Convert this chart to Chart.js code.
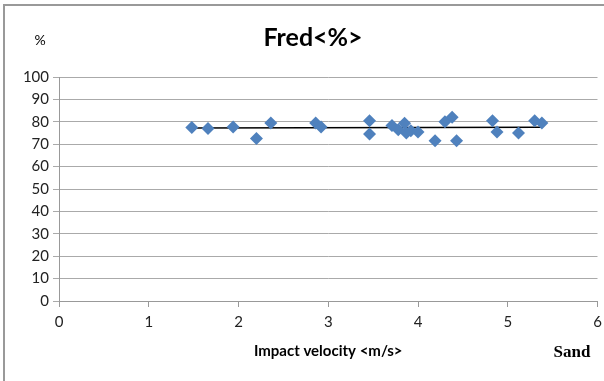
<!DOCTYPE html>
<html>
<head>
<meta charset="utf-8">
<script src="https://cdn.jsdelivr.net/npm/chart.js@4"></script>
<style>
  body { margin: 0; background: #fff; }
  #wrap { position: relative; width: 604px; height: 381px; }
  #frame { position: absolute; left: 3px; top: 4px; width: 610px; height: 390px;
           border-left: 2px solid #999; border-top: 2px solid #999; box-sizing: border-box; }
  canvas { position: absolute; left: 0; top: 0; }
</style>
</head>
<body>
<div id="wrap">
  <div id="frame"></div>
  <canvas id="fredChart" width="604" height="381"></canvas>
</div>
<script>
// impact velocity (m/s) and Fred (%)
const velocity = [1.48, 1.66, 1.94, 2.20, 2.36, 2.86, 2.92, 3.46, 3.46, 3.71, 3.78, 3.85, 3.87, 3.92, 4.00, 4.19, 4.30, 4.38, 4.43, 4.83, 4.88, 5.12, 5.30, 5.38];
const fred     = [77.5, 77.0, 77.7, 72.5, 79.5, 79.5, 77.7, 80.5, 74.5, 78.3, 76.5, 79.3, 75.0, 76.0, 75.5, 71.5, 80.0, 82.0, 71.5, 80.5, 75.5, 75.0, 80.5, 79.5];
const trendX   = [1.48, 5.38];
const trendY   = [77.2, 77.6];
const xTicks   = [0, 1, 2, 3, 4, 5, 6];
const yTicks   = [0, 10, 20, 30, 40, 50, 60, 70, 80, 90, 100];

const extraText = {
    id: 'extraText',
    afterDraw: function (chart) {
        var ctx = chart.ctx;
        ctx.save();
        ctx.fillStyle = '#000';
        ctx.textBaseline = 'middle';
        ctx.textAlign = 'center';
        ctx.font = 'bold 25px Lato, "Open Sans", sans-serif';
        ctx.fillText('Fred<%>', 313, 38);
        ctx.font = '14px Lato, "Open Sans", sans-serif';
        ctx.fillText('%', 40, 40);
        ctx.font = 'bold 17px "Liberation Serif", serif';
        ctx.fillText('Sand', 572, 353);
        ctx.restore();
    }
};

var ctx = document.getElementById('fredChart');
var fredChart = new Chart(ctx, {
    type: 'scatter',
    data: {
        datasets: [
            {
                label: 'Fred',
                data: velocity.map(function (v, i) { return { x: v, y: fred[i] }; }),
                pointStyle: 'rectRot',
                pointRadius: 6.5,
                pointHoverRadius: 6.5,
                backgroundColor: '#4f81bd',
                borderColor: '#4f81bd',
                borderWidth: 0
            },
            {
                label: 'Trend',
                type: 'line',
                data: trendX.map(function (v, i) { return { x: v, y: trendY[i] }; }),
                borderColor: '#000',
                borderWidth: 1.5,
                pointRadius: 0,
                fill: false
            }
        ]
    },
    options: {
        responsive: false,
        animation: false,
        layout: { padding: { left: 4, right: 6, top: 77, bottom: 17 } },
        plugins: {
            legend: { display: false },
            tooltip: { enabled: false }
        },
        scales: {
            x: {
                type: 'linear',
                min: 0,
                max: 6,
                afterBuildTicks: function (axis) { axis.ticks = xTicks.map(function (v) { return { value: v }; }); },
                afterFit: function (axis) { axis.height = 63; axis.paddingRight = 0; axis.paddingLeft = 0; },
                grid: { drawOnChartArea: false, color: '#999', tickLength: 6 },
                border: { color: '#999' },
                ticks: { color: '#222', font: { size: 15, family: 'Lato, "Open Sans", sans-serif' }, padding: 6 },
                title: {
                    display: true,
                    text: 'Impact velocity <m/s>',
                    color: '#000',
                    font: { size: 15, weight: 'bold', family: 'Lato, "Open Sans", sans-serif' },
                    padding: { top: 12, bottom: 4 }
                }
            },
            y: {
                min: 0,
                max: 100,
                afterBuildTicks: function (axis) { axis.ticks = yTicks.map(function (v) { return { value: v }; }); },
                afterFit: function (axis) { axis.width = 55; },
                grid: { color: '#aaa', tickLength: 6 },
                border: { color: '#999' },
                ticks: { color: '#222', font: { size: 15, family: 'Lato, "Open Sans", sans-serif' }, padding: 4 }
            }
        }
    },
    plugins: [extraText]
});
</script>
</body>
</html>
